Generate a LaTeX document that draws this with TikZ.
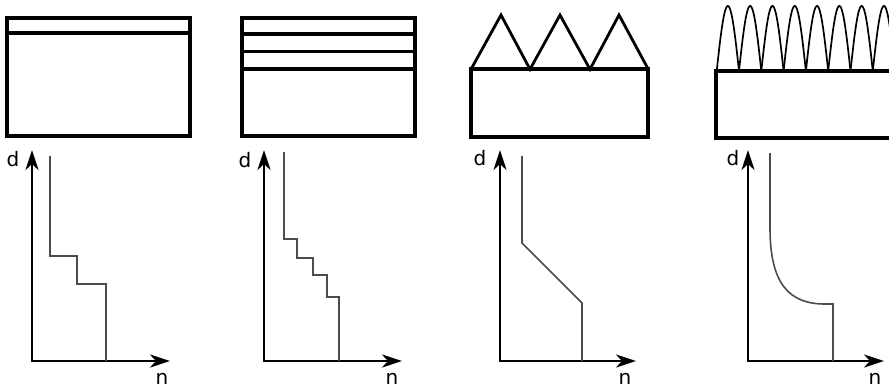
\documentclass[tikz,border=0pt]{standalone}
\usepackage{fontspec}
\setmainfont{DejaVu Sans}
\usetikzlibrary{arrows.meta}
\begin{document}
\begin{tikzpicture}[x=1pt,y=-1pt,
  thickbox/.style={line width=4pt},
  layer/.style={line width=3.2pt},
  tri/.style={line width=2.8pt, line join=miter},
  hump/.style={line width=1.7pt},
  axis/.style={line width=2.8pt, {Stealth[length=20pt,width=13pt,inset=6pt]}-{Stealth[length=20pt,width=13pt,inset=6pt]}},
  profile/.style={line width=1.6pt, draw=black!70},
  lbl/.style={font=\fontsize{20}{20}\selectfont, inner sep=0pt}]
\useasboundingbox (0,0) rectangle (889,389);
\clip (0,0) rectangle (889,389);

% ---------- panel 1 ----------
\draw[thickbox] (6.7,17.6) rectangle (190.3,136.4);
\draw[layer] (6.7,33) -- (190.3,33);
\coordinate (o1) at (32,361);
\coordinate (y1) at (32,150);
\coordinate (x1) at (170,361);
\draw[axis] (y1) -- (o1) -- (x1);
\node[lbl] (d1) at (13,159) {d};
\node[lbl] (n1) at (162,378.5) {n};
\draw[profile] (50,156) -- (50,256) -- (77,256) -- (77,284) -- (105.7,284) -- (105.7,361);

% ---------- panel 2 ----------
\draw[thickbox] (241.7,17.6) rectangle (415.3,136.4);
\draw[layer] (241.7,34) -- (415.3,34);
\draw[layer] (241.7,51.7) -- (415.3,51.7);
\draw[layer] (241.7,69) -- (415.3,69);
\coordinate (o2) at (264,361);
\coordinate (y2) at (264,150);
\coordinate (x2) at (402,361);
\draw[axis] (y2) -- (o2) -- (x2);
\node[lbl] (d2) at (245,160) {d};
\node[lbl] (n2) at (392,378.5) {n};
\draw[profile] (284,152) -- (284,239) -- (297,239) -- (297,258) -- (313,258) -- (313,275) -- (327,275) -- (327,297) -- (339,297) -- (339,361);

% ---------- panel 3 ----------
\draw[tri] (471,69.3) -- (501,15) -- (530,69.3) -- (560,15) -- (590,69.3) -- (619,15) -- (648.3,69.3);
\draw[thickbox] (471,69.3) rectangle (648.3,136.6);
\coordinate (o3) at (500,361);
\coordinate (y3) at (500,150);
\coordinate (x3) at (636,361);
\draw[axis] (y3) -- (o3) -- (x3);
\node[lbl] (d3) at (480,158) {d};
\node[lbl] (n3) at (625,378.5) {n};
\draw[profile] (522,156) -- (522,243) -- (582,303) -- (582,361);

% ---------- panel 4 ----------
\foreach \i in {0,...,7}
  \draw[hump] plot[domain=0:180, samples=40, variable=\t]
    ({716.7+22.3*\i+22.3*\t/180},{71-65*sin(\t)});
\draw[thickbox] (716,71) rectangle (900,137.7);
\coordinate (o4) at (748,361);
\coordinate (y4) at (748,150);
\coordinate (x4) at (884,361);
\draw[axis] (y4) -- (o4) -- (x4);
\node[lbl] (d4) at (733,158) {d};
\node[lbl] (n4) at (875,378.5) {n};
\draw[profile] (770,153) -- (770,228) .. controls (770,285) and (790,304) .. (825,304) -- (833,304) -- (833,361);
\end{tikzpicture}
\end{document}
